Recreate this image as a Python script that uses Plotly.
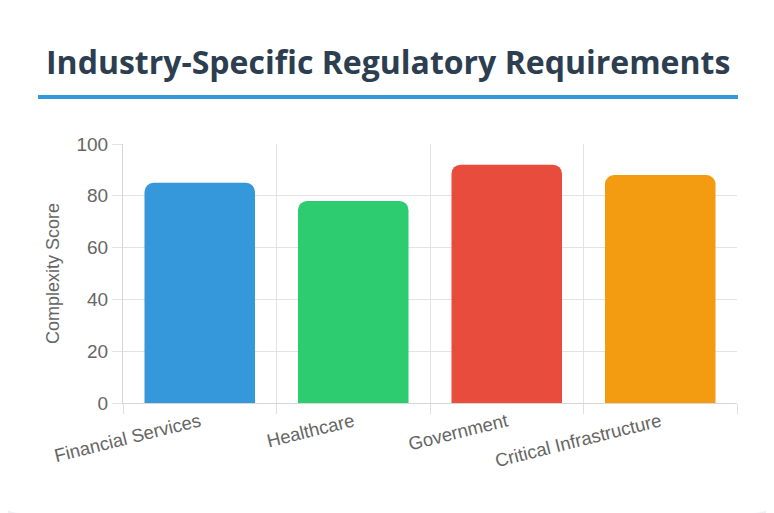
import plotly.graph_objects as go

# data
industries = ['Financial Services', 'Healthcare', 'Government', 'Critical Infrastructure']
scores = [85, 78, 92, 88]
bar_colors = ['#3498db', '#2ecc71', '#e74c3c', '#f39c12']

# the page body adds an 8px margin, so the figure sits at (8, 8)
OFF = 8
W, H = 774 - OFF, 513 - OFF
L, R, T, B = 123 - OFF, 37, 144 - OFF, 110


def px_x(x):
    # reference pixel -> paper coordinate
    return (x - OFF - L) / (W - L - R)


def px_y(y):
    return (H - B - (y - OFF)) / (H - T - B)


# rounded white card over a light grey page
rad = 20
x0, y0, x1, y1 = 0, 0, 774, 513
card = (f"M {px_x(x0 + rad)} {px_y(y0)} L {px_x(x1 - rad)} {px_y(y0)} "
        f"Q {px_x(x1)} {px_y(y0)} {px_x(x1)} {px_y(y0 + rad)} "
        f"L {px_x(x1)} {px_y(y1 - rad)} Q {px_x(x1)} {px_y(y1)} {px_x(x1 - rad)} {px_y(y1)} "
        f"L {px_x(x0 + rad)} {px_y(y1)} Q {px_x(x0)} {px_y(y1)} {px_x(x0)} {px_y(y1 - rad)} "
        f"L {px_x(x0)} {px_y(y0 + rad)} Q {px_x(x0)} {px_y(y0)} {px_x(x0 + rad)} {px_y(y0)} Z")

fig = go.Figure()
fig.add_trace(go.Bar(
    x=industries, y=scores,
    marker=dict(color=bar_colors, line=dict(width=0)),
    hoverinfo='x+y',
))

fig.update_layout(
    width=W, height=H,
    margin=dict(l=L, r=R, t=T, b=B),
    paper_bgcolor='#eef0f3',
    plot_bgcolor='rgba(0,0,0,0)',
    showlegend=False,
    bargap=0.28,
    barcornerradius=9,
    font=dict(family='Liberation Sans, Arial, sans-serif', color='#666666', size=18),
    shapes=[
        dict(type='path', xref='paper', yref='paper', path=card,
             fillcolor='white', line=dict(width=0), layer='below'),
        dict(type='line', xref='paper', yref='paper',
             x0=px_x(38), x1=px_x(738), y0=px_y(97), y1=px_y(97),
             line=dict(color='#3498db', width=4)),
    ],
    annotations=[
        dict(text='<b>Industry-Specific Regulatory Requirements</b>',
             xref='paper', yref='paper', x=px_x(388), y=px_y(62),
             xanchor='center', yanchor='middle', showarrow=False,
             font=dict(family='Open Sans, Noto Sans, sans-serif', size=32, color='#2c3e50')),
    ],
)

fig.update_xaxes(
    tickson='boundaries', ticks='outside', ticklen=10, tickcolor='#e0e0e0',
    showgrid=True, gridcolor='#e3e3e3', gridwidth=1,
    showline=True, linecolor='#d6d6d6', linewidth=1,
    tickangle=-14, tickfont=dict(size=18.5, color='#666666'),
)
fig.update_yaxes(
    range=[0, 100], dtick=20, ticks='outside', ticklen=10, tickcolor='#e3e3e3',
    showgrid=True, gridcolor='#e3e3e3', gridwidth=1,
    zeroline=False, showline=True, linecolor='#d6d6d6', linewidth=1,
    tickfont=dict(size=19, color='#666666'),
    title=dict(text='Complexity Score', font=dict(size=18, color='#666666'), standoff=12),
)

fig.write_html('out.html')
